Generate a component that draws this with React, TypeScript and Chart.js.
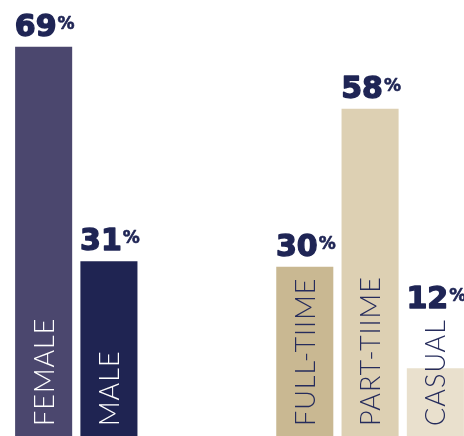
import React, { useEffect, useRef } from "react";
import { Chart, registerables } from "chart.js";

Chart.register(...registerables);

const categories = ["FEMALE", "MALE", "", "", "FULL-TIIME", "PART-TIIME", "CASUAL"];
const values: (number | null)[] = [69, 31, null, null, 30, 58, 12];
const barColors = ["#4b476e", "#1f2452", "#ffffff", "#ffffff", "#c9b892", "#ddd0b3", "#e9e0cd"];
const innerTextColors = ["#ffffff", "#ffffff", "#ffffff", "#ffffff", "#262c5c", "#262c5c", "#262c5c"];
const valueColor = "#1f2555";

const INNER_FONT = "300 27px Lato, 'Open Sans', sans-serif";

const labelPlugin = {
  id: "labelPlugin",
  afterDatasetsDraw(chart: any) {
    const ctx = chart.ctx as CanvasRenderingContext2D;
    const meta = chart.getDatasetMeta(0);
    const bottom = chart.chartArea.bottom;
    meta.data.forEach((bar: any, i: number) => {
      const v = values[i];
      if (v == null) return;
      // inner rotated label
      ctx.save();
      (ctx as any).letterSpacing = "1px";
      ctx.font = INNER_FONT;
      const tw = ctx.measureText(categories[i]).width;
      const start = bottom - 10;
      ctx.translate(bar.x, start);
      ctx.rotate(-Math.PI / 2);
      ctx.fillStyle = innerTextColors[i];
      ctx.textAlign = "left";
      ctx.textBaseline = "alphabetic";
      ctx.fillText(categories[i], 0, 10);
      ctx.restore();
      const textTop = start - tw;
      // value label
      ctx.save();
      const numStr = String(v);
      ctx.font = "bold 30px 'DejaVu Sans'";
      const nw = ctx.measureText(numStr).width;
      ctx.font = "bold 17px 'DejaVu Sans'";
      const pw = ctx.measureText("%").width;
      const total = nw + pw + 1;
      const x0 = bar.x - total / 2 + 1;
      const yb = Math.min(bar.y, textTop) - 11;
      ctx.fillStyle = valueColor;
      ctx.strokeStyle = valueColor;
      ctx.lineJoin = "round";
      ctx.textAlign = "left";
      ctx.textBaseline = "alphabetic";
      ctx.font = "bold 30px 'DejaVu Sans'";
      ctx.lineWidth = 1.4;
      ctx.fillText(numStr, x0, yb);
      ctx.strokeText(numStr, x0, yb);
      ctx.font = "bold 17px 'DejaVu Sans'";
      ctx.lineWidth = 0.6;
      ctx.fillText("%", x0 + nw + 1, yb - 7);
      ctx.strokeText("%", x0 + nw + 1, yb - 7);
      ctx.restore();
    });
  },
};

export default function App() {
  const ref = useRef<HTMLCanvasElement>(null);
  useEffect(() => {
    document.body.style.margin = "0";
    const chart = new Chart(ref.current!, {
      type: "bar",
      data: {
        labels: categories,
        datasets: [
          {
            data: values as any,
            backgroundColor: barColors,
            borderWidth: 0,
            categoryPercentage: 1,
            barPercentage: 0.874,
          },
        ],
      },
      options: {
        animation: false,
        responsive: true,
        maintainAspectRatio: false,
        layout: { padding: 0 },
        plugins: { legend: { display: false }, tooltip: { enabled: false } },
        scales: {
          x: { display: false, grid: { display: false } },
          y: { display: false, min: 0, max: 77.3, grid: { display: false } },
        },
      },
      plugins: [labelPlugin],
    });
    return () => chart.destroy();
  }, []);
  return (
    <div style={{ position: "absolute", left: 0, top: 0, width: 464, height: 436, overflow: "hidden", background: "#fff" }}>
      <div style={{ position: "absolute", left: 11, top: 0, width: 457, height: 436 }}>
        <canvas ref={ref} />
      </div>
    </div>
  );
}
